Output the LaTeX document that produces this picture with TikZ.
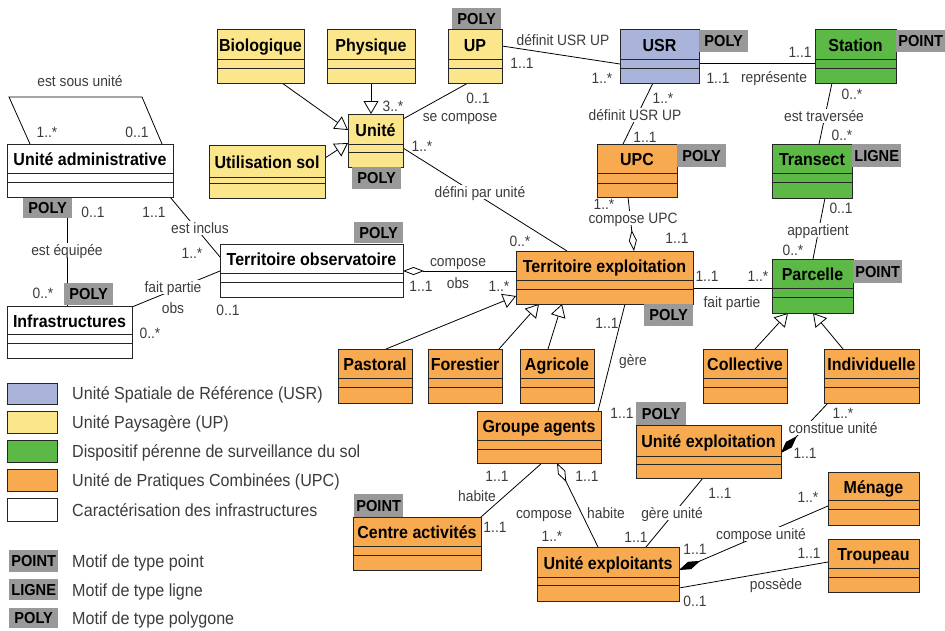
\documentclass[tikz,border=0pt]{standalone}
\usepackage{fontspec}
\setmainfont{Liberation Sans}[FakeStretch=0.92]
\usetikzlibrary{arrows.meta}

\definecolor{usrblue}{HTML}{AAB4DA}
\definecolor{upyellow}{HTML}{FCE68C}
\definecolor{dpgreen}{HTML}{5DB946}
\definecolor{upcorange}{HTML}{F8AA50}
\definecolor{taggray}{HTML}{999999}
\definecolor{lblgray}{HTML}{3C3C3C}
\definecolor{edgecol}{HTML}{262626}

\pgfdeclarelayer{paper}
\pgfdeclarelayer{wires}
\pgfsetlayers{paper,wires,main}

\tikzset{
  classbox/.style={draw=edgecol, line width=1pt, inner sep=0pt, outer sep=0pt},
  boxline/.style={draw=edgecol, line width=1pt},
  ttl/.style={font=\fontsize{17.4}{17.4}\selectfont\bfseries, text=black, inner sep=0pt, text height=12.5pt, text depth=0pt},
  lbl/.style={font=\fontsize{15}{15}\selectfont, text=lblgray, inner sep=0pt, text height=10.7pt, text depth=0pt},
  cut/.style={lbl, fill=white, inner xsep=1pt, inner ysep=2pt},
  tagbox/.style={fill=taggray, inner sep=0pt, font=\fontsize{15.9}{15.9}\selectfont\bfseries, text=black, text height=11.4pt, text depth=0pt},
  wire/.style={draw=black, line width=0.8pt},
  gen/.style={wire, -{Triangle[fill=white, length=13pt, width=15pt]}},
  agg/.style={wire, -{Diamond[fill=white, length=21pt, width=8pt]}},
  comp/.style={wire, -{Diamond[fill=black, length=23pt, width=8pt]}},
  legtext/.style={font=\fontsize{17.5}{17.5}\selectfont, text=lblgray, anchor=west, inner sep=0pt, text height=12.5pt, text depth=0pt},
  swatch/.style={draw=edgecol, line width=1pt},
}

% class box: name, fill, x1, y1, x2, y2, title separator y, attribute separator y, title
\newcommand\umlclass[9]{%
  \node[classbox, fill=#2, anchor=north west, minimum width={#5-#3}, minimum height={#6-#4}] (#1) at (#3,#4) {};
  \draw[boxline] (#3,#7) -- (#5,#7) (#3,#8) -- (#5,#8);
  \node[ttl] (#1-name) at ({(#3+#5)/2},{(#4+#7)/2+1}) {#9};
}
% geometry tag: name, x1, y1, x2, y2, text
\newcommand\motif[6]{%
  \node[tagbox, anchor=north west, minimum width={#4-#2}, minimum height={#5-#3}] (#1) at (#2,#3) {#6};
}

\begin{document}
\begin{tikzpicture}[x=1pt, y=-1pt]
\begin{pgfonlayer}{paper}
  \fill[white] (0,0) rectangle (945,630);
\end{pgfonlayer}
\useasboundingbox (0,0) rectangle (945,630);

% ---- classes ----
\umlclass{bio}{upyellow}{217}{29}{304}{83}{59}{68}{Biologique}
\umlclass{phys}{upyellow}{327}{29}{415}{83}{59}{68}{Physique}
\umlclass{up}{upyellow}{448}{29}{502}{83}{59}{68}{UP}
\umlclass{usr}{usrblue}{620}{29}{699}{83}{59}{68}{USR}
\umlclass{station}{dpgreen}{815}{29}{896}{83}{59}{68}{Station}
\umlclass{unite}{upyellow}{348}{114}{403}{167}{144}{152}{Unité}
\umlclass{usol}{upyellow}{209}{145}{325}{198}{177}{183}{Utilisation sol}
\umlclass{admin}{white}{7}{144}{173}{197}{173}{182}{Unité administrative}
\umlclass{upc}{upcorange}{597}{144}{677}{197}{173}{183}{UPC}
\umlclass{transect}{dpgreen}{772}{144}{852}{198}{173}{182}{Transect}
\umlclass{tobs}{white}{220}{244}{403}{297}{273}{282}{Territoire observatoire}
\umlclass{texp}{upcorange}{516}{251}{693}{304}{280}{289}{Territoire exploitation}
\umlclass{parcelle}{dpgreen}{772}{259}{853}{313}{288}{297}{Parcelle}
\umlclass{infra}{white}{7}{306}{132}{358}{334}{343}{Infrastructures}
\umlclass{pastoral}{upcorange}{338}{349}{412}{403}{378}{387}{Pastoral}
\umlclass{forestier}{upcorange}{428}{349}{502}{403}{378}{387}{Forestier}
\umlclass{agricole}{upcorange}{520}{349}{594}{403}{378}{387}{Agricole}
\umlclass{collective}{upcorange}{703}{349}{787}{403}{378}{387}{Collective}
\umlclass{indiv}{upcorange}{824}{349}{919}{403}{378}{387}{Individuelle}
\umlclass{groupe}{upcorange}{477}{411}{601}{463}{440}{449}{Groupe agents}
\umlclass{uexpl}{upcorange}{636}{425}{781}{478}{456}{464}{Unité exploitation}
\umlclass{menage}{upcorange}{828}{472}{919}{525}{500}{509}{Ménage}
\umlclass{centre}{upcorange}{353}{517}{481}{570}{546}{555}{Centre activités}
\umlclass{troupeau}{upcorange}{828}{539}{919}{592}{568}{577}{Troupeau}
\umlclass{uexpts}{upcorange}{537}{547}{679}{601}{577}{585}{Unité exploitants}

% ---- geometry tags ----
\motif{tag-up}{452}{8}{501}{29}{POLY}
\motif{tag-usr}{699}{30}{748}{52}{POLY}
\motif{tag-station}{896}{30}{945}{52}{POINT}
\motif{tag-upc}{677}{144}{726}{167}{POLY}
\motif{tag-transect}{852}{144}{901}{167}{LIGNE}
\motif{tag-unite}{352}{167}{401}{189}{POLY}
\motif{tag-admin}{23}{198}{72}{218}{POLY}
\motif{tag-tobs}{354}{222}{403}{243}{POLY}
\motif{tag-infra}{64}{283}{113}{305}{POLY}
\motif{tag-parcelle}{853}{260}{902}{283}{POINT}
\motif{tag-texp}{644}{304}{693}{326}{POLY}
\motif{tag-uexpl}{636}{402}{686}{425}{POLY}
\motif{tag-centre}{354}{494}{403}{517}{POINT}

% ---- connectors ----
\begin{pgfonlayer}{wires}
  % reflexive association on Unité administrative
  \coordinate (loopA) at (9,97);
  \coordinate (loopB) at (142,97);
  \draw[wire] (admin.north -| 30,0) -- (loopA) -- (loopB) -- (admin.north -| 162,0);
  % specialisations of Unité
  \draw[gen] (bio.south -| 282,0) -- (unite.west |- 0,130);
  \draw[gen] (phys.south) -- (phys.south |- unite.north);
  \draw[gen] (usol.east |- 0,158) -- (unite.west |- 0,143);
  % associations of the landscape units
  \draw[wire] (up.south -| 468,0) -- (unite.east |- 0,119);
  \draw[wire] (up.east |- 0,46) -- (usr.west |- 0,64);
  \draw[wire] (usr.east |- 0,63) -- (station.west |- 0,63);
  \draw[wire] (usr.south -| 653,0) -- (upc.north -| 623,0);
  \draw[wire] (station.south -| 832,0) -- (transect.north -| 819,0);
  \draw[wire] (transect.south -| 825,0) -- (parcelle.north -| 813,0);
  \draw[agg] (upc.south -| 628,0) -- (texp.north -| 634,0);
  \draw[wire] (unite.east |- 0,148) -- (texp.north -| 567,0);
  % infrastructures
  \draw[wire] (admin.south -| 170,0) -- (tobs.west |- 0,257);
  \draw[wire] (admin.south -| 67,0) -- (infra.north -| 67,0);
  \draw[wire] (infra.east |- 0,307) -- (tobs.west |- 0,271);
  \draw[agg] (texp.west |- 0,271) -- (tobs.east |- 0,271);
  % territoire exploitation
  \draw[wire] (texp.east |- 0,288) -- (parcelle.west |- 0,288);
  \draw[gen] (pastoral.north -| 386,0) -- (texp.west |- 0,296);
  \draw[gen] (forestier.north -| 499,0) -- (texp.south -| 539,0);
  \draw[gen] (agricole.north -| 548,0) -- (texp.south -| 562,0);
  \draw[wire] (texp.south -| 625,0) -- (groupe.north -| 598,0);
  % parcelles
  \draw[gen] (collective.north -| 755,0) -- (parcelle.south -| 788,0);
  \draw[gen] (indiv.north -| 843,0) -- (parcelle.south -| 813,0);
  \draw[comp] (indiv.south -| 828,0) -- (uexpl.east |- 0,453);
  % agents and holdings
  \draw[wire] (groupe.south -| 542,0) -- (centre.north east);
  \draw[agg] (uexpts.north -| 598,0) -- (groupe.south -| 557,0);
  \draw[wire] (uexpl.south -| 703,0) -- (uexpts.north -| 646,0);
  \draw[comp] (menage.west |- 0,506) -- (uexpts.east |- 0,570);
  \draw[wire] (troupeau.west |- 0,562) -- (uexpts.east |- 0,588);
\end{pgfonlayer}

% ---- association names ----
\node[lbl] (n-sous) at (80,81) {est sous unité};
\node[lbl] (n-secomp) at (460,116) {se compose};
\node[lbl] (n-defup) at (563,40) {définit USR UP};
\node[lbl] (n-repr) at (774,77) {représente};
\node[cut] (n-defupc) at (635,115) {définit USR UP};
\node[cut] (n-trav) at (824,116) {est traversée};
\node[cut] (n-appart) at (818,230) {appartient};
\node[cut] (n-compupc) at (633,218) {compose UPC};
\node[cut] (n-defini) at (480,192) {défini par unité};
\node[cut] (n-inclus) at (200,228) {est inclus};
\node[cut] (n-equip) at (67,250) {est équipée};
\node[cut] (n-fpobs) at (173,287) {fait partie};
\node[lbl] (n-fpobs2) at (173,308) {obs};
\node[lbl] (n-compobs) at (458,261) {compose};
\node[lbl] (n-compobs2) at (458,283) {obs};
\node[lbl] (n-fpparc) at (732,302) {fait partie};
\node[lbl] (n-gere) at (633,360) {gère};
\node[cut] (n-constit) at (833,428) {constitue unité};
\node[lbl] (n-habite1) at (477,496) {habite};
\node[lbl] (n-compga) at (544,513) {compose};
\node[lbl] (n-habite2) at (606,513) {habite};
\node[cut] (n-gereu) at (672,513) {gère unité};
\node[cut] (n-compu) at (761,534) {compose unité};
\node[lbl] (n-possede) at (776,584) {possède};

% ---- multiplicities ----
\node[lbl] (m1) at (47,132) {1..*};
\node[lbl] (m2) at (137,132) {0..1};
\node[lbl] (m3) at (393,106) {3..*};
\node[lbl] (m4) at (478,98) {0..1};
\node[lbl] (m5) at (522,63) {1..1};
\node[lbl] (m6) at (602,78) {1..*};
\node[lbl] (m7) at (800,52) {1..1};
\node[lbl] (m8) at (718,78) {1..1};
\node[lbl] (m9) at (663,98) {1..*};
\node[lbl] (m10) at (645,137) {1..1};
\node[lbl] (m11) at (852,94) {0..*};
\node[lbl] (m12) at (842,135) {0..*};
\node[lbl] (m13) at (841,208) {0..1};
\node[lbl] (m14) at (793,250) {0..*};
\node[lbl] (m15) at (604,204) {1..*};
\node[lbl] (m16) at (677,238) {1..1};
\node[lbl] (m17) at (422,146) {1..*};
\node[lbl] (m18) at (520,241) {0..*};
\node[lbl] (m19) at (154,212) {1..1};
\node[lbl] (m20) at (192,253) {1..*};
\node[lbl] (m21) at (93,212) {0..1};
\node[lbl] (m22) at (43,293) {0..*};
\node[lbl] (m23) at (150,333) {0..*};
\node[lbl] (m24) at (228,310) {0..1};
\node[lbl] (m25) at (421,286) {1..1};
\node[lbl] (m26) at (499,286) {1..*};
\node[lbl] (m27) at (707,276) {1..1};
\node[lbl] (m28) at (758,276) {1..*};
\node[lbl] (m29) at (607,323) {1..1};
\node[lbl] (m30) at (622,413) {1..1};
\node[lbl] (m31) at (843,413) {1..*};
\node[lbl] (m32) at (805,453) {1..1};
\node[lbl] (m33) at (497,476) {1..1};
\node[lbl] (m34) at (495,527) {1..1};
\node[lbl] (m35) at (587,476) {1..1};
\node[lbl] (m36) at (552,536) {1..*};
\node[lbl] (m37) at (720,493) {1..1};
\node[lbl] (m38) at (636,537) {1..1};
\node[lbl] (m39) at (808,497) {1..*};
\node[lbl] (m40) at (695,549) {1..1};
\node[lbl] (m41) at (809,553) {1..1};
\node[lbl] (m42) at (695,601) {0..1};

% ---- legend ----
\path[swatch, fill=usrblue] (7,383) rectangle (57,404);
\path[swatch, fill=upyellow] (7,411) rectangle (57,433);
\path[swatch, fill=dpgreen] (7,440) rectangle (57,462);
\path[swatch, fill=upcorange] (7,469) rectangle (57,491);
\path[swatch, fill=white] (7,498) rectangle (57,521);
\node[legtext] (lg1) at (72,393) {Unité Spatiale de Référence (USR)};
\node[legtext] (lg2) at (72,422) {Unité Paysagère (UP)};
\node[legtext] (lg3) at (72,451) {Dispositif pérenne de surveillance du sol};
\node[legtext] (lg4) at (72,480) {Unité de Pratiques Combinées (UPC)};
\node[legtext] (lg5) at (72,510) {Caractérisation des infrastructures};
\motif{lg-point}{9}{550}{58}{572}{POINT}
\motif{lg-ligne}{9}{579}{58}{600}{LIGNE}
\motif{lg-poly}{9}{608}{58}{628}{POLY}
\node[legtext] (lg6) at (72,561) {Motif de type point};
\node[legtext] (lg7) at (72,590) {Motif de type ligne};
\node[legtext] (lg8) at (72,618) {Motif de type polygone};
\end{tikzpicture}
\end{document}
